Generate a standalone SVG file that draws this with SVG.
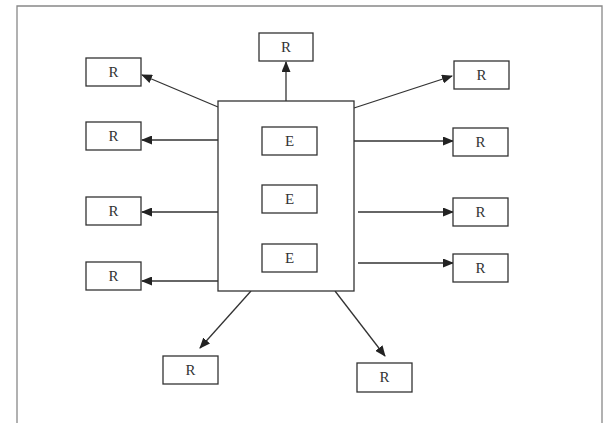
<svg xmlns="http://www.w3.org/2000/svg" width="606" height="423" viewBox="0 0 606 423">
<defs>
<marker id="ah" markerWidth="11" markerHeight="9" refX="10" refY="4.5" orient="auto" markerUnits="userSpaceOnUse">
<path d="M0,0 L11,4.5 L0,9 Z" fill="#222"/>
</marker>
<style>
.box{fill:#fff;stroke:#333;stroke-width:1.3}
.t{font-family:"Liberation Serif",serif;font-size:15px;fill:#333;text-anchor:middle;dominant-baseline:central}
.c{stroke:#333;stroke-width:1.3;fill:none;marker-end:url(#ah)}
.frame{fill:none;stroke:#888;stroke-width:1.3}
</style>
</defs>
<rect width="606" height="423" fill="#fff"/>
<path class="frame" d="M17,424 L17,6 L602,6 L602,424"/>
<g id="connectors">
<line class="c" x1="286" y1="101" x2="286" y2="62"/>
<line class="c" x1="218" y1="107" x2="142" y2="75"/>
<line class="c" x1="218" y1="140" x2="142" y2="140"/>
<line class="c" x1="218" y1="212" x2="142" y2="212"/>
<line class="c" x1="218" y1="281" x2="142" y2="281"/>
<line class="c" x1="354" y1="108" x2="452" y2="76"/>
<line class="c" x1="354" y1="141" x2="453" y2="141"/>
<line class="c" x1="358" y1="212" x2="453" y2="212"/>
<line class="c" x1="358" y1="263" x2="453" y2="263"/>
<line class="c" x1="251" y1="291" x2="200" y2="348"/>
<line class="c" x1="335" y1="291" x2="385" y2="356"/>
</g>
<g id="main"><rect class="box" x="218" y="101" width="136" height="190"/></g>
<g id="e1"><rect class="box" x="262" y="127" width="55" height="28"/><text class="t" x="289.5" y="141">E</text></g>
<g id="e2"><rect class="box" x="262" y="185" width="55" height="28"/><text class="t" x="289.5" y="199">E</text></g>
<g id="e3"><rect class="box" x="262" y="244" width="55" height="28"/><text class="t" x="289.5" y="258">E</text></g>
<g id="rtop"><rect class="box" x="259" y="33" width="54" height="28"/><text class="t" x="286" y="47">R</text></g>
<g id="rl1"><rect class="box" x="86" y="58" width="55" height="28"/><text class="t" x="113.5" y="72">R</text></g>
<g id="rl2"><rect class="box" x="86" y="122" width="55" height="28"/><text class="t" x="113.5" y="136">R</text></g>
<g id="rl3"><rect class="box" x="86" y="197" width="55" height="28"/><text class="t" x="113.5" y="211">R</text></g>
<g id="rl4"><rect class="box" x="86" y="262" width="55" height="28"/><text class="t" x="113.5" y="276">R</text></g>
<g id="rr1"><rect class="box" x="454" y="61" width="55" height="28"/><text class="t" x="481.5" y="75">R</text></g>
<g id="rr2"><rect class="box" x="453" y="128" width="55" height="28"/><text class="t" x="480.5" y="142">R</text></g>
<g id="rr3"><rect class="box" x="453" y="198" width="55" height="28"/><text class="t" x="480.5" y="212">R</text></g>
<g id="rr4"><rect class="box" x="453" y="254" width="55" height="28"/><text class="t" x="480.5" y="268">R</text></g>
<g id="rb1"><rect class="box" x="163" y="356" width="55" height="28"/><text class="t" x="190.5" y="370">R</text></g>
<g id="rb2"><rect class="box" x="357" y="363" width="55" height="29"/><text class="t" x="384.5" y="377">R</text></g>
</svg>
